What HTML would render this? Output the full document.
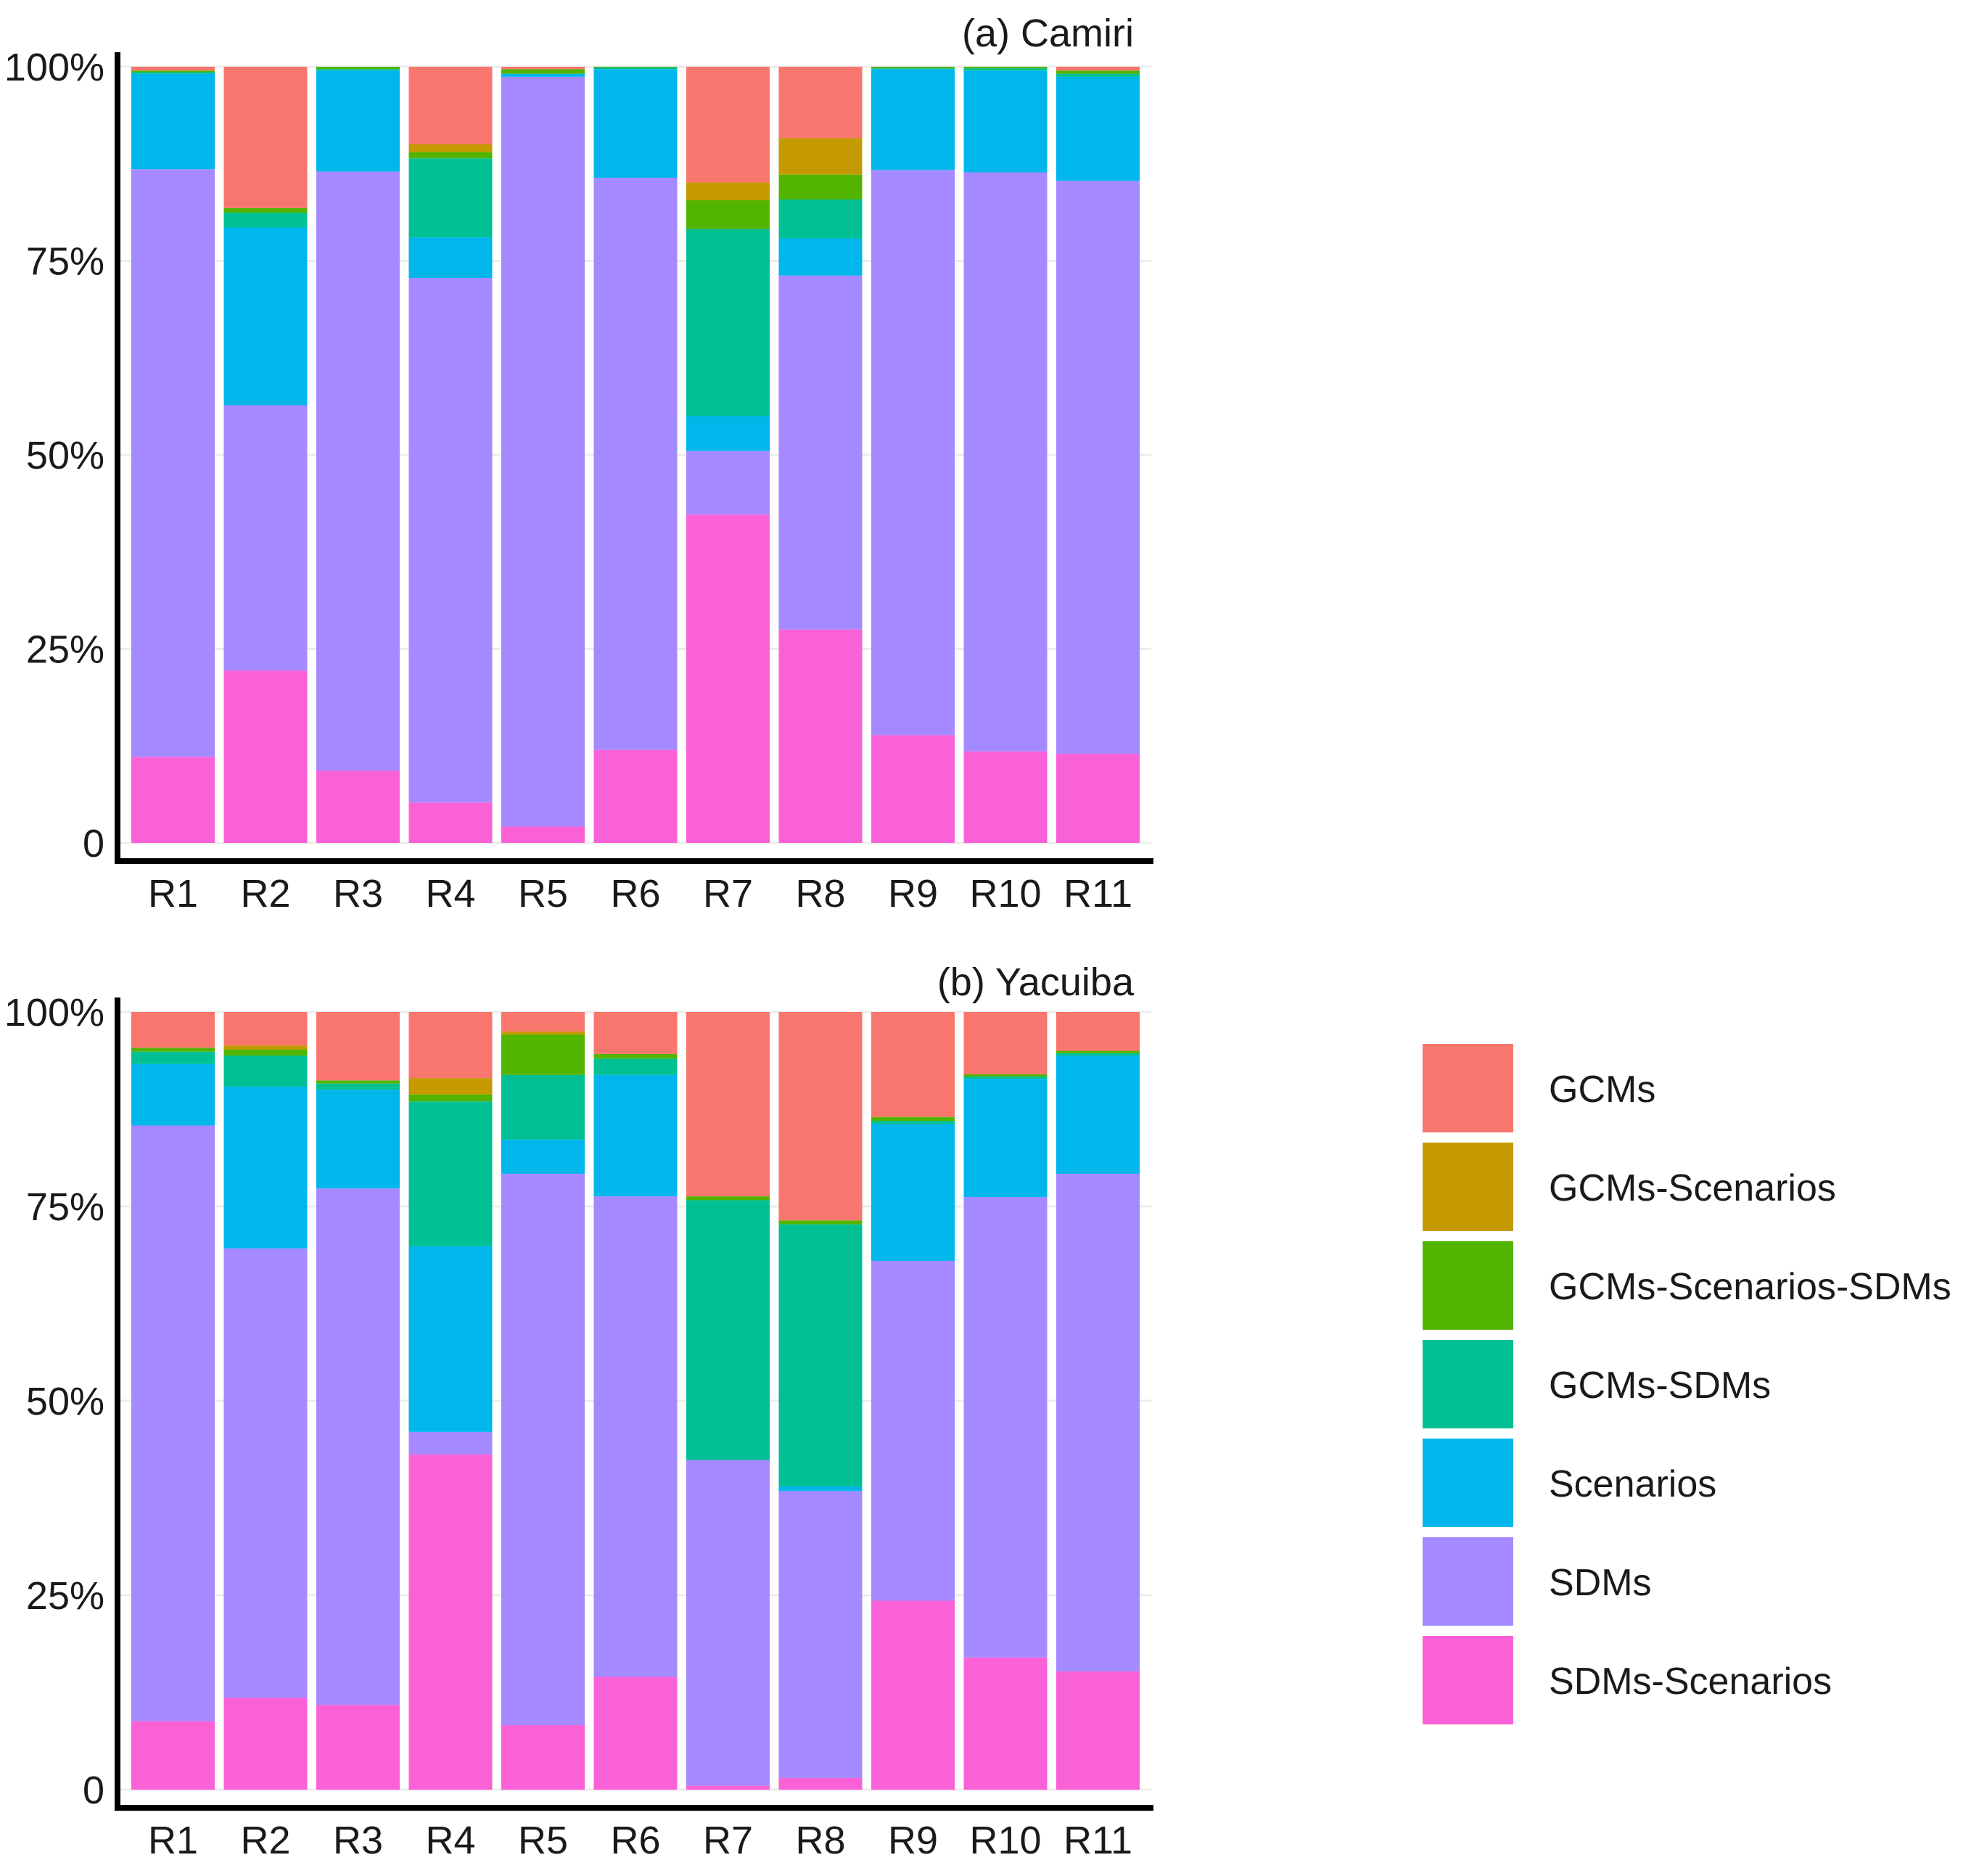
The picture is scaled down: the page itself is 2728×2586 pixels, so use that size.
<!DOCTYPE html>
<html><head><meta charset="utf-8"><style>
html,body{margin:0;padding:0;background:#fff;}
svg{display:block;font-family:"Liberation Sans",Arial,sans-serif;}
</style></head><body>
<svg id="chart" width="2728" height="2586" viewBox="0 0 2728 2586" xmlns="http://www.w3.org/2000/svg"></svg>
<script>
const categories = ["R1","R2","R3","R4","R5","R6","R7","R8","R9","R10","R11"];
const seriesNames = ["SDMs-Scenarios","SDMs","Scenarios","GCMs-SDMs","GCMs-Scenarios-SDMs","GCMs-Scenarios","GCMs"];
const seriesColors = ["#FB61D7","#A58AFF","#00B6EB","#00C094","#53B400","#C49A00","#F8766D"];
const legendOrder = ["GCMs","GCMs-Scenarios","GCMs-Scenarios-SDMs","GCMs-SDMs","Scenarios","SDMs","SDMs-Scenarios"];
const tickValues = [0,25,50,75,100];
const tickLabels = ["0","25%","50%","75%","100%"];
// Camiri: per series, per category
const camiriSDMsScen = [11.1,22.2,9.3,5.2,2.1,12.0,42.3,27.5,13.9,11.8,11.5];
const camiriSDMs     = [75.7,34.2,77.2,67.6,96.6,73.7,8.2,45.6,72.8,74.6,73.8];
const camiriScen     = [12.3,22.9,13.0,5.2,0.4,14.0,4.5,4.8,13.0,13.1,13.4];
const camiriGS       = [0.2,1.9,0.2,10.2,0,0.2,24.1,5.0,0.1,0.3,0.4];
const camiriGSS      = [0.2,0.6,0.3,0.8,0.6,0.1,3.7,3.2,0.2,0.2,0.4];
const camiriGSc      = [0,0,0,1.0,0,0,2.3,4.7,0,0,0];
const camiriGCMs     = [0.5,18.2,0,10.0,0.3,0,14.9,9.2,0,0,0.5];
// Yacuiba
const yacSDMsScen = [8.8,11.8,10.9,43.1,8.3,14.5,0.5,1.5,24.3,17.0,15.2];
const yacSDMs     = [76.6,57.8,66.4,2.9,70.9,61.8,41.9,36.9,43.7,59.2,64.0];
const yacScen     = [7.9,20.8,12.7,23.9,4.4,15.6,0,0.6,17.6,15.2,15.2];
const yacGS       = [1.6,4.0,0.8,18.6,8.3,2.1,33.4,33.7,0.4,0.3,0.3];
const yacGSS      = [0.5,0.8,0.4,0.9,5.2,0.6,0.5,0.5,0.5,0.3,0.3];
const yacGSc      = [0,0.5,0,2.1,0.4,0,0,0,0,0,0];
const yacGCMs     = [4.6,4.3,8.8,8.5,2.5,5.4,23.7,26.8,13.5,8.0,5.0];

const NS="http://www.w3.org/2000/svg";
const svg=document.getElementById('chart');
function mk(tag,attrs,parent){const e=document.createElementNS(NS,tag);for(const k in attrs)e.setAttribute(k,attrs[k]);(parent||svg).appendChild(e);return e;}

function panel(title,series,y100,y0,axisY,titleY,labelY,key){
  const g=mk('g',{});
  
  
  const yScale=v=>y0-(y0-y100)*v/100;
  const barLeft=i=>181+i*127.5;
  const barW=115;
  // gridlines
  tickValues.forEach((t,i)=>{
    const l=mk('line',{x1:165,x2:1587,y1:yScale(t),y2:yScale(t),stroke:'#ececec','stroke-width':3},g);
    
    
    const tx=mk('text',{x:144,y:yScale(t)+19,'text-anchor':'end','font-size':54,fill:'#1a1a1a'},g);
    tx.textContent=tickLabels[i];
    
    
  });
  categories.forEach((c,i)=>{
    let tot=0;series.forEach(s=>tot+=s[i]);
    let acc=0;
    series.forEach((s,k)=>{
      const v=s[i]/tot*100;
      if(v<=0){return;}
      const r=mk('rect',{x:barLeft(i),width:barW,y:yScale(acc+v),height:yScale(acc)-yScale(acc+v),fill:seriesColors[k]},g);
      
      
      acc+=v;
    });
    const t=mk('text',{x:barLeft(i)+barW/2,y:labelY,'text-anchor':'middle','font-size':54,fill:'#1a1a1a'},g);
    t.textContent=c;
    
    
  });
  const ax=mk('path',{d:`M162 ${y100-20} V${axisY} H1590`,fill:'none',stroke:'#000','stroke-width':8},g);
  
  
  const tt=mk('text',{x:1563,y:titleY,'text-anchor':'end','font-size':54,fill:'#1a1a1a'},g);
  tt.textContent=title;
  
  
}
panel('(a) Camiri',[camiriSDMsScen,camiriSDMs,camiriScen,camiriGS,camiriGSS,camiriGSc,camiriGCMs],92,1162,1187,64,1250,'camiri');
panel('(b) Yacuiba',[yacSDMsScen,yacSDMs,yacScen,yacGS,yacGSS,yacGSc,yacGCMs],1395,2467,2492,1372,2555,'yacuiba');

const lg=mk('g',{});


legendOrder.forEach((n,i)=>{
  const k=seriesNames.indexOf(n);
  const y=1439+i*136;
  const r=mk('rect',{x:1961,y:y,width:125,height:122,fill:seriesColors[k]},lg);
  
  
  const t=mk('text',{x:2135,y:y+80,'font-size':52,fill:'#1a1a1a'},lg);
  t.textContent=n;
  
  
});
</script>
</body></html>
